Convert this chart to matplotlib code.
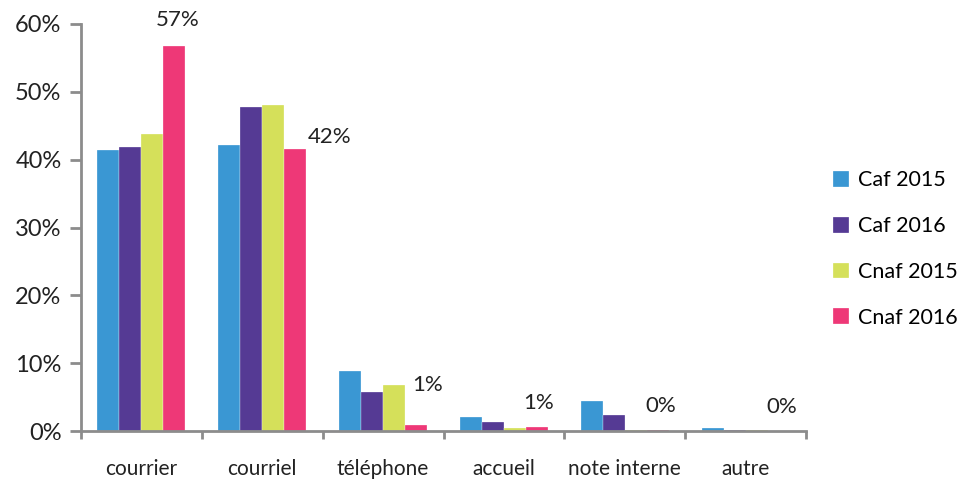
import numpy as np
import matplotlib
matplotlib.use("Agg")
import matplotlib.pyplot as plt

plt.rcParams["font.family"] = ["Lato", "DejaVu Sans"]

categories = ["courrier", "courriel", "téléphone", "accueil", "note interne", "autre"]
series = ["Caf 2015", "Caf 2016", "Cnaf 2015", "Cnaf 2016"]
caf_2015 = [41.4, 42.2, 8.8, 2.0, 4.4, 0.5]
caf_2016 = [41.8, 47.7, 5.7, 1.3, 2.4, 0.15]
cnaf_2015 = [43.8, 48.1, 6.8, 0.5, 0.2, 0.15]
cnaf_2016 = [56.8, 41.6, 0.9, 0.6, 0.2, 0.05]
values = [caf_2015, caf_2016, cnaf_2015, cnaf_2016]

colors = ["#3A97D3", "#553A94", "#D5E05A", "#EE3877"]
# where each Cnaf 2016 value label sits (x, y in data units)
label_pos = [(0.30, 60.6), (1.56, 43.4), (2.37, 6.8), (3.29, 4.1), (4.30, 3.7), (5.30, 3.5)]

fig = plt.figure(figsize=(9.7, 4.79), dpi=100)
ax = fig.add_axes([0.0835, 0.1002, 0.7475, 0.8497])

x = np.arange(len(categories))
width = 0.182
for i, (name, vals) in enumerate(zip(series, values)):
    ax.bar(x + (i - 1.5) * width, vals, width, color=colors[i], label=name,
           edgecolor="white", linewidth=0.2)

for (lx, ly), v in zip(label_pos, cnaf_2016):
    ax.text(lx, ly, f"{v:.0f}%", ha="center", va="center", fontsize=16,
            color="#222222")

ax.set_xlim(-0.5, len(categories) - 0.5)
ax.set_ylim(0, 60)
ax.set_yticks(np.arange(0, 61, 10))
ax.set_yticklabels([f"{t}%" for t in range(0, 61, 10)], fontsize=17, color="#222222")
ax.set_xticks(np.arange(-0.5, len(categories), 1.0))
ax.set_xticklabels([])
ax.set_xticks(x, minor=True)
ax.set_xticklabels(categories, minor=True, fontsize=15, color="#222222")
ax.tick_params(axis="x", which="minor", length=0, pad=20)
ax.tick_params(axis="x", which="major", length=6, width=2, color="#8c8c8c")
ax.tick_params(axis="y", length=8, width=2, color="#8c8c8c", pad=6)

for side in ["top", "right"]:
    ax.spines[side].set_visible(False)
for side in ["left", "bottom"]:
    ax.spines[side].set_color("#8c8c8c")
    ax.spines[side].set_linewidth(2)

fig.legend(loc="center left", bbox_to_anchor=(0.848, 0.48), frameon=False,
           fontsize=15.5, handlelength=0.75, handleheight=0.75, handletextpad=0.4,
           labelspacing=1.2, borderpad=0)

fig.savefig("out.png", dpi=100)
